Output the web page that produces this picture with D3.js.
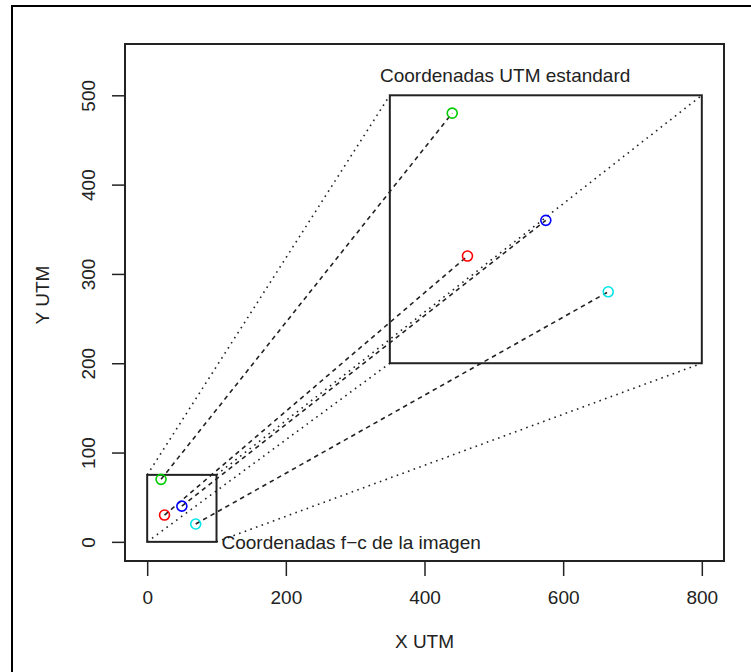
<!DOCTYPE html>
<html>
<head>
<meta charset="utf-8">
<script src="https://cdn.jsdelivr.net/npm/d3@7"></script>
<style>
  body { margin: 0; background: #fff; }
  text { font-family: "Liberation Sans", Arial, sans-serif; fill: #222; }
</style>
</head>
<body>
<div id="chart"></div>
<script>
// image (f-c) coordinates of the four points
var smallX = [20, 25, 50, 70];
var smallY = [70, 30, 40, 20];
// standard UTM coordinates of the same points
var bigX = [440, 462, 575, 665];
var bigY = [480, 320, 360, 280];
var colors = ["#00cd00", "#ff0000", "#0000ff", "#00e5e5"];

// the two frames [x0, x1, y0, y1]
var smallBox = [0, 100, 0, 75];
var bigBox = [350, 800, 200, 500];

var xTicks = [0, 200, 400, 600, 800];
var yTicks = [0, 100, 200, 300, 400, 500];
var xLim = [0, 800], yLim = [0, 536];

var W = 751, H = 672;
var plot = {left: 125, top: 44, right: 724, bottom: 561};

function ext(l) { var d = (l[1] - l[0]) * 0.04; return [l[0] - d, l[1] + d]; }

var x = d3.scaleLinear().domain(ext(xLim)).range([plot.left, plot.right]);
var y = d3.scaleLinear().domain(ext(yLim)).range([plot.bottom, plot.top]);

var svg = d3.select("#chart").append("svg")
  .attr("width", W).attr("height", H);

// outer frame (right and bottom cut off)
svg.append("rect")
  .attr("x", 12).attr("y", 6)
  .attr("width", W + 20).attr("height", H + 20)
  .attr("fill", "none").attr("stroke", "#000").attr("stroke-width", 2);

// plot box
svg.append("rect")
  .attr("x", plot.left).attr("y", plot.top)
  .attr("width", plot.right - plot.left).attr("height", plot.bottom - plot.top)
  .attr("fill", "none").attr("stroke", "#222").attr("stroke-width", 2);

// x axis
var gx = svg.append("g")
  .attr("transform", "translate(0," + plot.bottom + ")")
  .call(d3.axisBottom(x).tickValues(xTicks).tickSize(15).tickPadding(15).tickFormat(d3.format("d")));
gx.select(".domain").remove();
gx.selectAll("line").attr("stroke", "#222").attr("stroke-width", 1.5);
gx.selectAll("text").style("font-size", "19px").attr("fill", "#222")
  .attr("font-family", "Liberation Sans, Arial, sans-serif");

// y axis
var gy = svg.append("g")
  .attr("transform", "translate(" + plot.left + ",0)")
  .call(d3.axisLeft(y).tickValues(yTicks).tickSize(13).tickFormat(d3.format("d")));
gy.select(".domain").remove();
gy.selectAll("line").attr("stroke", "#222").attr("stroke-width", 1.5);
gy.selectAll("text").remove();
gy.selectAll(".tick").append("text")
  .attr("transform", "translate(-37,0) rotate(-90)")
  .attr("text-anchor", "middle")
  .attr("dy", "0.35em")
  .style("font-size", "19px")
  .text(function(d) { return d; });

// axis titles
svg.append("text")
  .attr("x", (plot.left + plot.right) / 2).attr("y", 648)
  .attr("text-anchor", "middle").style("font-size", "19px")
  .text("X UTM");
svg.append("text")
  .attr("transform", "translate(42,295) rotate(-90)")
  .attr("text-anchor", "middle").attr("dy", "0.35em").style("font-size", "19px")
  .text("Y UTM");

// boxes
function drawBox(b) {
  svg.append("rect")
    .attr("x", x(b[0])).attr("y", y(b[3]))
    .attr("width", x(b[1]) - x(b[0])).attr("height", y(b[2]) - y(b[3]))
    .attr("fill", "none").attr("stroke", "#222").attr("stroke-width", 2);
}
drawBox(smallBox);
drawBox(bigBox);

// dotted lines linking corners of the boxes
var corners = [[0, 2], [1, 2], [0, 3], [1, 3]];
svg.selectAll(".corner").data(corners).enter().append("line")
  .attr("x1", function(c) { return x(smallBox[c[0]]); })
  .attr("y1", function(c) { return y(smallBox[c[1]]); })
  .attr("x2", function(c) { return x(bigBox[c[0]]); })
  .attr("y2", function(c) { return y(bigBox[c[1]]); })
  .attr("stroke", "#222").attr("stroke-width", 1.6)
  .attr("stroke-dasharray", "1.6,4.4");

// dashed lines from each point to its transformed position
var idx = d3.range(smallX.length);
svg.selectAll(".link").data(idx).enter().append("line")
  .attr("x1", function(i) { return x(smallX[i]); })
  .attr("y1", function(i) { return y(smallY[i]); })
  .attr("x2", function(i) { return x(bigX[i]); })
  .attr("y2", function(i) { return y(bigY[i]); })
  .attr("stroke", "#222").attr("stroke-width", 1.6)
  .attr("stroke-dasharray", "4.5,4");

// points
svg.selectAll(".p1").data(idx).enter().append("circle")
  .attr("cx", function(i) { return x(smallX[i]); })
  .attr("cy", function(i) { return y(smallY[i]); })
  .attr("r", 5).attr("fill", "none")
  .attr("stroke", function(i) { return colors[i]; }).attr("stroke-width", 1.6);
svg.selectAll(".p2").data(idx).enter().append("circle")
  .attr("cx", function(i) { return x(bigX[i]); })
  .attr("cy", function(i) { return y(bigY[i]); })
  .attr("r", 5).attr("fill", "none")
  .attr("stroke", function(i) { return colors[i]; }).attr("stroke-width", 1.6);

// box labels
svg.append("text")
  .attr("x", x(smallBox[1]) + 5).attr("y", y(0))
  .attr("dy", "0.35em").style("font-size", "19px")
  .text("Coordenadas f\u2212c de la imagen");
svg.append("text")
  .attr("x", 380).attr("y", 82)
  .style("font-size", "19px")
  .text("Coordenadas UTM estandard");
</script>
</body>
</html>
